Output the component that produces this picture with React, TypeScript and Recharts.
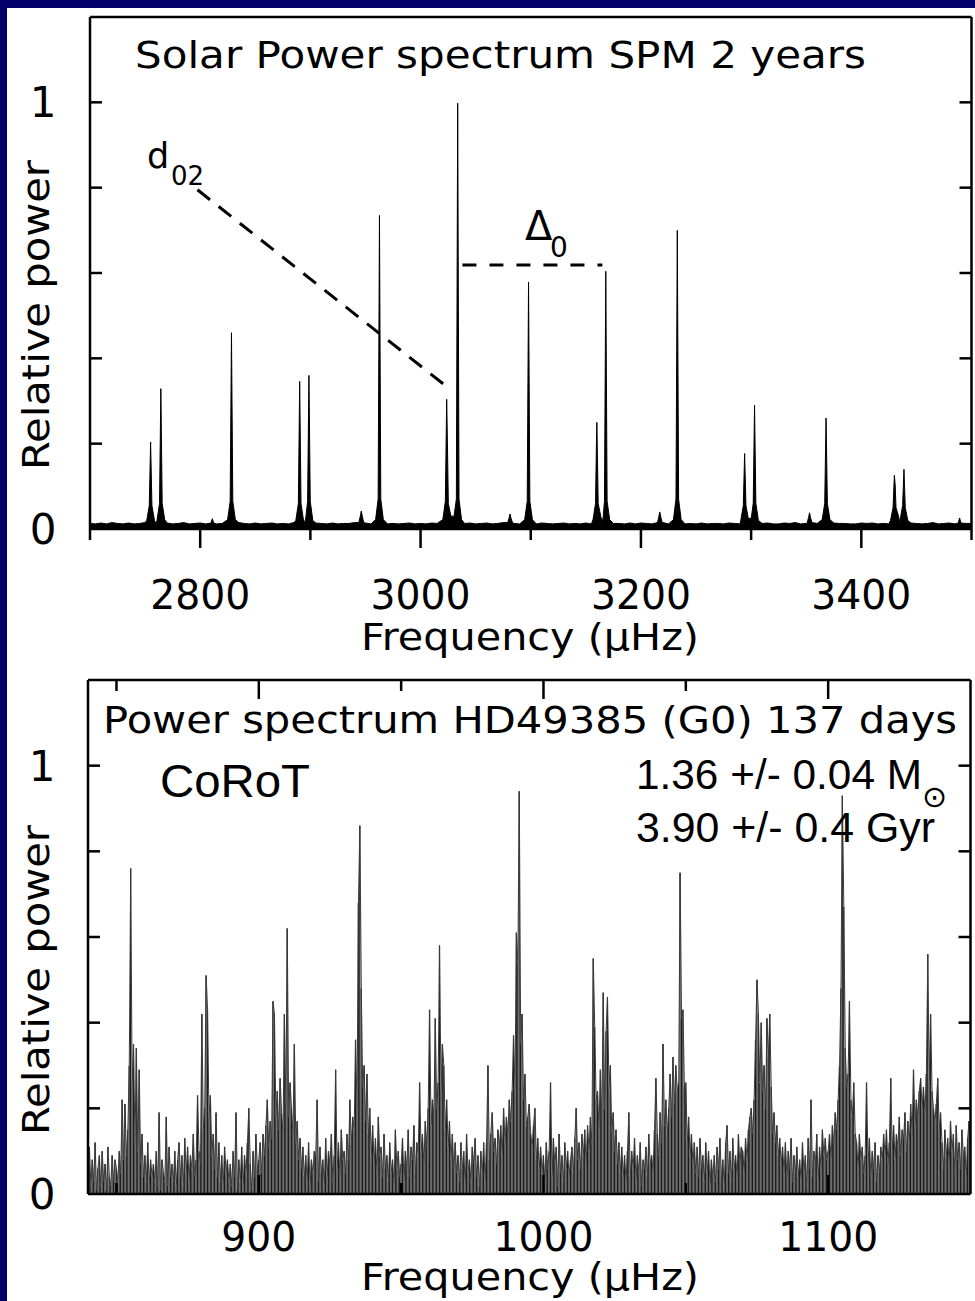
import React from "react";
import { ComposedChart, Area, Bar, Line, XAxis, YAxis, ReferenceLine } from "recharts";

const NAVY = "#000068";
const HERSHEY = "'DejaVu Sans', 'Noto Sans', sans-serif";
const ARIAL = "'Liberation Sans', Arial, sans-serif";

// ---------- shared y axis ----------
const POWER_DOMAIN: [number, number] = [0, 1.2];
const POWER_TICKS = [0, 0.2, 0.4, 0.6, 0.8, 1, 1.2];
const POWER_LABELS = [0, 1];

// ---------- top: Sun, SPM 2 years ----------
const SUN_DOMAIN: [number, number] = [2700, 3500];
const SUN_TICKS = [2700, 2800, 2900, 3000, 3100, 3200, 3300, 3400, 3500];
const SUN_LABELS = [2800, 3000, 3200, 3400];

// mode peaks, [frequency µHz, relative power], one group per peak
const SUN_PEAKS: [number, number][][] = [
  [[2751.5, 0.02], [2753.8, 0.055], [2755.0, 0.204], [2756.2, 0.055], [2758.5, 0.02]],
  [[2760.8, 0.02], [2763.1, 0.06], [2764.3, 0.329], [2765.5, 0.06], [2767.8, 0.022]],
  [[2809.8, 0.014], [2811.0, 0.024], [2812.2, 0.014]],
  [[2824.9, 0.022], [2827.2, 0.065], [2828.4, 0.46], [2829.6, 0.065], [2831.9, 0.022]],
  [[2886.8, 0.02], [2889.1, 0.06], [2890.3, 0.346], [2891.5, 0.06], [2893.5, 0.025]],
  [[2895.8, 0.025], [2897.5, 0.065], [2898.7, 0.36], [2899.9, 0.065], [2902.2, 0.02]],
  [[2944.0, 0.015], [2945.3, 0.03], [2946.2, 0.042], [2947.1, 0.03], [2948.4, 0.015]],
  [[2959.2, 0.022], [2961.5, 0.07], [2962.7, 0.735], [2963.9, 0.07], [2966.2, 0.022]],
  [[3020.2, 0.022], [3022.5, 0.065], [3023.7, 0.304], [3024.4, 0.2], [3025.2, 0.06], [3027.5, 0.03]],
  [[3030.4, 0.03], [3032.5, 0.07], [3033.7, 0.998], [3034.9, 0.07], [3037.2, 0.022]],
  [[3079.0, 0.015], [3080.3, 0.025], [3081.2, 0.035], [3082.1, 0.025], [3083.4, 0.015]],
  [[3094.5, 0.022], [3096.8, 0.065], [3098.0, 0.579], [3099.2, 0.065], [3101.5, 0.022]],
  [[3156.5, 0.022], [3158.8, 0.06], [3159.6, 0.2], [3160.0, 0.25], [3161.2, 0.06], [3163.5, 0.03]],
  [[3165.8, 0.03], [3166.9, 0.065], [3168.1, 0.604], [3169.3, 0.065], [3171.6, 0.022]],
  [[3215.0, 0.015], [3216.2, 0.028], [3217.1, 0.04], [3218.0, 0.028], [3219.3, 0.015]],
  [[3229.5, 0.022], [3231.8, 0.07], [3233.0, 0.7], [3234.2, 0.07], [3236.5, 0.022]],
  [[3290.6, 0.02], [3292.9, 0.055], [3294.1, 0.177], [3295.3, 0.055], [3297.4, 0.025]],
  [[3300.1, 0.025], [3301.9, 0.06], [3303.1, 0.29], [3304.3, 0.06], [3306.6, 0.02]],
  [[3351.0, 0.015], [3352.1, 0.027], [3353.0, 0.038], [3353.9, 0.027], [3355.2, 0.015]],
  [[3364.5, 0.022], [3366.8, 0.06], [3368.0, 0.26], [3369.2, 0.06], [3371.5, 0.022]],
  [[3426.5, 0.02], [3428.8, 0.05], [3430.0, 0.126], [3430.7, 0.105], [3431.5, 0.05], [3433.8, 0.03]],
  [[3435.8, 0.03], [3437.5, 0.055], [3438.7, 0.14], [3439.9, 0.05], [3442.2, 0.02]],
  [[3488.0, 0.014], [3489.2, 0.026], [3490.4, 0.014]],
];

// background floor, thousandths, every 5 µHz from 2700
const SUN_FLOOR_START = 2700;
const SUN_FLOOR_STEP = 5;
const SUN_FLOOR = [
  13, 12, 14, 12, 15, 13, 12, 14, 12, 13, 15, 12, 13, 12, 14, 12, 13, 15, 12, 13,
  14, 12, 14, 12, 13, 14, 12, 15, 13, 12, 14, 12, 13, 14, 12, 13, 12, 15, 12, 13,
  12, 14, 13, 12, 14, 12, 13, 13, 15, 12, 14, 12, 13, 14, 12, 13, 12, 13, 14, 12,
  13, 12, 14, 13, 12, 15, 12, 13, 13, 14, 12, 13, 14, 12, 13, 15, 12, 13, 12, 14,
  13, 12, 14, 13, 12, 13, 14, 12, 13, 12, 14, 12, 13, 15, 12, 13, 13, 12, 14, 12,
  14, 13, 12, 13, 15, 12, 13, 14, 12, 13, 12, 14, 12, 13, 13, 12, 14, 13, 12, 14,
  12, 13, 13, 14, 12, 12, 14, 13, 15, 12, 13, 12, 13, 14, 12, 14, 13, 13, 12, 12,
  14, 13, 14, 12, 13, 12, 13, 14, 12, 14, 13, 12, 13, 15, 12, 13, 14, 12, 14, 13,
  13,
];

// annotations (data coords)
const D02_LINE = [{ x: 2797.5, y: 0.795 }, { x: 3028, y: 0.325 }];
const DELTA0_LINE = [{ x: 3038, y: 0.619 }, { x: 3165, y: 0.619 }];

// ---------- bottom: HD49385, CoRoT 137 days ----------
const STAR_DOMAIN: [number, number] = [840, 1150];
const STAR_TICKS = [850, 900, 950, 1000, 1050, 1100];
const STAR_LABELS = [900, 1000, 1100];

// relative power in hundredths, every 0.5 µHz from 840, one row per 10 µHz
const STAR_START = 840;
const STAR_STEP = 0.5;
const STAR_POWER = [
  5, 11, 2, 8, 3, 12, 1, 6, 9, 2, 10, 3, 7, 1, 11, 4, 2, 9, 3, 8,
  6, 3, 10, 5, 22, 8, 21, 9, 15, 30, 76, 26, 35, 12, 34, 10, 29, 7, 14, 4,
  9, 3, 12, 2, 8, 4, 7, 3, 10, 2, 19, 1, 8, 5, 3, 18, 2, 11, 4, 7,
  3, 10, 2, 8, 12, 4, 9, 2, 13, 5, 11, 3, 9, 6, 14, 4, 8, 23, 10, 7,
  42, 15, 20, 51, 43, 18, 23, 9, 14, 6, 19, 4, 12, 3, 9, 2, 11, 5, 8, 3,
  7, 2, 10, 4, 19, 1, 8, 3, 11, 2, 9, 5, 12, 20, 7, 1, 10, 4, 14, 6,
  8, 12, 5, 14, 9, 16, 22, 11, 17, 13, 45, 42, 18, 24, 15, 27, 19, 14, 42, 21,
  62, 18, 26, 20, 14, 35, 12, 17, 8, 13, 6, 11, 4, 9, 3, 12, 2, 8, 5, 10,
  9, 22, 3, 11, 5, 8, 2, 13, 4, 10, 7, 14, 3, 9, 29, 6, 12, 4, 15, 8,
  10, 5, 14, 8, 22, 12, 18, 15, 36, 20, 68, 86, 48, 25, 30, 17, 28, 14, 20, 9,
  16, 7, 13, 5, 18, 9, 11, 4, 14, 6, 9, 3, 12, 5, 8, 2, 15, 6, 10, 4,
  7, 13, 3, 10, 6, 15, 4, 11, 8, 16, 5, 12, 9, 26, 10, 14, 7, 17, 11, 20,
  43, 16, 22, 18, 41, 20, 26, 58, 24, 35, 30, 15, 22, 11, 17, 8, 14, 6, 12, 5,
  9, 3, 12, 6, 10, 2, 14, 5, 8, 3, 11, 7, 13, 4, 9, 2, 10, 5, 12, 3,
  12, 30, 8, 14, 19, 10, 13, 7, 15, 11, 16, 9, 20, 12, 18, 14, 22, 17, 24, 37,
  25, 61, 54, 94, 35, 42, 22, 28, 16, 18, 21, 14, 11, 16, 20, 8, 13, 6, 11, 5,
  9, 3, 12, 6, 10, 26, 4, 13, 7, 11, 2, 14, 5, 9, 3, 12, 6, 10, 4, 8,
  11, 5, 13, 20, 8, 12, 6, 14, 9, 15, 7, 16, 10, 18, 12, 55, 39, 22, 24, 15,
  29, 18, 47, 20, 38, 46, 25, 30, 14, 19, 10, 15, 7, 12, 5, 11, 4, 9, 3, 10,
  19, 4, 10, 6, 13, 3, 9, 5, 12, 2, 8, 6, 11, 4, 14, 7, 9, 5, 15, 27,
  14, 9, 19, 12, 35, 16, 22, 14, 20, 28, 18, 32, 21, 30, 24, 26, 75, 41, 43, 25,
  26, 12, 18, 9, 14, 7, 12, 5, 11, 4, 13, 6, 9, 3, 12, 5, 10, 2, 8, 4,
  9, 3, 11, 6, 13, 4, 8, 2, 12, 16, 5, 10, 3, 13, 6, 9, 4, 14, 7, 11,
  10, 5, 13, 8, 15, 18, 20, 14, 22, 36, 50, 42, 26, 40, 24, 30, 20, 41, 32, 42,
  25, 14, 19, 12, 16, 9, 13, 7, 11, 5, 12, 4, 10, 6, 13, 3, 9, 5, 11, 4,
  8, 3, 12, 5, 9, 2, 13, 6, 22, 4, 10, 7, 14, 3, 11, 6, 15, 9, 13, 8,
  10, 14, 8, 16, 12, 19, 15, 22, 30, 48, 93, 67, 34, 25, 28, 45, 22, 18, 26, 14,
  12, 6, 14, 8, 11, 5, 9, 26, 7, 13, 4, 10, 6, 12, 3, 9, 5, 11, 8, 14,
  9, 15, 7, 12, 27, 10, 16, 8, 14, 11, 18, 9, 15, 13, 19, 10, 17, 12, 21, 14,
  29, 16, 22, 18, 24, 27, 20, 25, 19, 28, 56, 26, 42, 24, 20, 17, 21, 27, 15, 19,
  12, 6, 15, 9, 13, 7, 17, 10, 14, 5, 16, 8, 12, 6, 15, 9, 11, 4, 13, 17,
  8,
];

// ---------- build tables ----------
const sunSpans = SUN_PEAKS.map((g) => [g[0][0] - 0.5, g[g.length - 1][0] + 0.5]);
const sunData = [
  ...SUN_FLOOR.map((v, i) => ({ f: SUN_FLOOR_START + i * SUN_FLOOR_STEP, p: v / 1000 })).filter(
    (pt) => !sunSpans.some(([a, b]) => pt.f >= a && pt.f <= b)
  ),
  ...SUN_PEAKS.flat().map(([f, p]) => ({ f, p })),
].sort((a, b) => a.f - b.f);

const starData = STAR_POWER.map((v, i) => ({ f: STAR_START + i * STAR_STEP, p: v / 100 }));

// ---------- ticks ----------
const AXIS = { stroke: "#000", strokeWidth: 2.5 };

function xTick(majors: number[], dir: 1 | -1, labelDy: number | null) {
  return (props: any) => {
    const { x, y, payload } = props;
    const major = majors.includes(payload.value);
    const len = major ? 19 : 11;
    const label = String(payload.value);
    return (
      <g>
        <line x1={x} y1={y} x2={x} y2={y + dir * len} stroke="#000" strokeWidth={2.5} />
        {labelDy !== null && major && (
          <text x={x} y={y + labelDy} textAnchor="middle" fontFamily={HERSHEY} fontSize={40} fill="#000"
            textLength={label.length * 25} lengthAdjust="spacingAndGlyphs">
            {label}
          </text>
        )}
      </g>
    );
  };
}

function yTick(dir: 1 | -1, labelDx: number | null) {
  return (props: any) => {
    const { x, y, payload } = props;
    const v = payload.value;
    const inner = v > 0 && v < 1.2;
    return (
      <g>
        {inner && <line x1={x} y1={y} x2={x + dir * 12} y2={y} stroke="#000" strokeWidth={2.5} />}
        {labelDx !== null && POWER_LABELS.includes(v) && (
          <text x={x + labelDx} y={y + 15} textAnchor="middle" fontFamily={HERSHEY} fontSize={42} fill="#000">
            {v}
          </text>
        )}
      </g>
    );
  };
}

const T = (p: React.SVGProps<SVGTextElement>) => <text fill="#000" fontFamily={HERSHEY} {...p} />;

export default function App() {
  return (
    <div style={{ position: "absolute", left: 0, top: 0, width: 975, height: 1301, background: NAVY, overflow: "hidden" }}>
      <div style={{ position: "absolute", left: 7, top: 8, width: 968, height: 1293, background: "#fff" }} />

      <div style={{ position: "absolute", left: 0, top: 0 }}>
        <ComposedChart width={975} height={660} data={sunData} margin={{ top: 16, right: 2.5, bottom: 0, left: 0 }}>
          <XAxis xAxisId="b" dataKey="f" type="number" domain={SUN_DOMAIN} allowDataOverflow ticks={SUN_TICKS}
            interval={0} height={131} axisLine={AXIS} tickLine={false} tickSize={0} tickMargin={0}
            tick={xTick(SUN_LABELS, 1, 80)} />
          <XAxis xAxisId="t" orientation="top" dataKey="f" type="number" domain={SUN_DOMAIN} allowDataOverflow
            height={1} axisLine={AXIS} tickLine={false} tick={false} />
          <YAxis yAxisId="l" type="number" domain={POWER_DOMAIN} ticks={POWER_TICKS} interval={0} width={90}
            axisLine={AXIS} tickLine={false} tickSize={0} tickMargin={0} tick={yTick(1, -47)} />
          <YAxis yAxisId="r" orientation="right" type="number" domain={POWER_DOMAIN} ticks={POWER_TICKS}
            interval={0} width={1} axisLine={AXIS} tickLine={false} tickSize={0} tickMargin={0} tick={yTick(-1, null)} />
          <Area xAxisId="b" yAxisId="l" dataKey="p" type="linear" stroke="#000" strokeWidth={1} fill="#000"
            fillOpacity={1} dot={false} activeDot={false} isAnimationActive={false} />
          {/* invisible series so the top/right frame axes get drawn */}
          <Line xAxisId="t" yAxisId="r" dataKey="p" stroke="none" dot={false} activeDot={false}
            isAnimationActive={false} legendType="none" />
          <ReferenceLine xAxisId="b" yAxisId="l" segment={D02_LINE} stroke="#000" strokeWidth={3}
            strokeDasharray="16 11" ifOverflow="visible" />
          <ReferenceLine xAxisId="b" yAxisId="l" segment={DELTA0_LINE} stroke="#000" strokeWidth={3}
            strokeDasharray="14 13" ifOverflow="visible" />
        </ComposedChart>
      </div>

      <div style={{ position: "absolute", left: 0, top: 660 }}>
        <ComposedChart width={975} height={641} data={starData} margin={{ top: 19, right: 3.5, bottom: 0, left: 0 }}>
          <XAxis xAxisId="b" dataKey="f" type="number" domain={STAR_DOMAIN} allowDataOverflow ticks={STAR_TICKS}
            interval={0} height={107} axisLine={AXIS} tickLine={false} tickSize={0} tickMargin={0}
            tick={xTick(STAR_LABELS, -1, 57)} />
          <XAxis xAxisId="t" orientation="top" dataKey="f" type="number" domain={STAR_DOMAIN} allowDataOverflow
            ticks={STAR_TICKS} interval={0} height={1} axisLine={AXIS} tickLine={false} tickSize={0} tickMargin={0}
            tick={xTick(STAR_LABELS, 1, null)} />
          <YAxis yAxisId="l" type="number" domain={POWER_DOMAIN} ticks={POWER_TICKS} interval={0} width={88}
            axisLine={AXIS} tickLine={false} tickSize={0} tickMargin={0} tick={yTick(1, -46)} />
          <YAxis yAxisId="r" orientation="right" type="number" domain={POWER_DOMAIN} ticks={POWER_TICKS}
            interval={0} width={1} axisLine={AXIS} tickLine={false} tickSize={0} tickMargin={0} tick={yTick(-1, null)} />
          <Bar xAxisId="b" yAxisId="l" dataKey="p" barSize={1.2} fill="#1c1c1c" isAnimationActive={false} />
          <Line xAxisId="b" yAxisId="l" dataKey="p" type="linear" stroke="#3a3a3a" strokeWidth={1}
            dot={false} activeDot={false} isAnimationActive={false} />
          <Line xAxisId="t" yAxisId="r" dataKey="p" stroke="none" dot={false} activeDot={false}
            isAnimationActive={false} legendType="none" />
        </ComposedChart>
      </div>

      <svg width={975} height={1301} style={{ position: "absolute", left: 0, top: 0, pointerEvents: "none" }}>
        {/* top panel */}
        <T x={135} y={68} fontSize={38} textLength={731} lengthAdjust="spacingAndGlyphs">
          Solar Power spectrum SPM 2 years
        </T>
        <T x={49} y={315} fontSize={38} textAnchor="middle" textLength={310} lengthAdjust="spacingAndGlyphs"
          transform="rotate(-90 49 315)">Relative power</T>
        <T x={530} y={650} fontSize={38} textAnchor="middle" textLength={338} lengthAdjust="spacingAndGlyphs">
          Frequency (μHz)
        </T>
        <T x={147} y={168} fontSize={35}>d</T>
        <T x={171} y={185} fontSize={26}>02</T>
        <T x={525} y={240} fontSize={40}>Δ</T>
        <T x={550} y={257} fontSize={28}>0</T>

        {/* bottom panel */}
        <T x={103} y={733} fontSize={38} textLength={854} lengthAdjust="spacingAndGlyphs">
          Power spectrum HD49385 (G0) 137 days
        </T>
        <T x={49} y={980} fontSize={38} textAnchor="middle" textLength={310} lengthAdjust="spacingAndGlyphs"
          transform="rotate(-90 49 980)">Relative power</T>
        <T x={530} y={1290} fontSize={37} textAnchor="middle" textLength={338} lengthAdjust="spacingAndGlyphs">
          Frequency (μHz)
        </T>
        <T x={160} y={797} fontSize={47} fontFamily={ARIAL} textLength={150} lengthAdjust="spacingAndGlyphs">CoRoT</T>
        <T x={636} y={789} fontSize={42} fontFamily={ARIAL} textLength={286} lengthAdjust="spacingAndGlyphs">
          1.36 +/- 0.04 M
        </T>
        <T x={922} y={807} fontSize={30} fontFamily={HERSHEY}>⊙</T>
        <T x={636} y={842} fontSize={42} fontFamily={ARIAL} textLength={299} lengthAdjust="spacingAndGlyphs">
          3.90 +/- 0.4 Gyr
        </T>
      </svg>
    </div>
  );
}
